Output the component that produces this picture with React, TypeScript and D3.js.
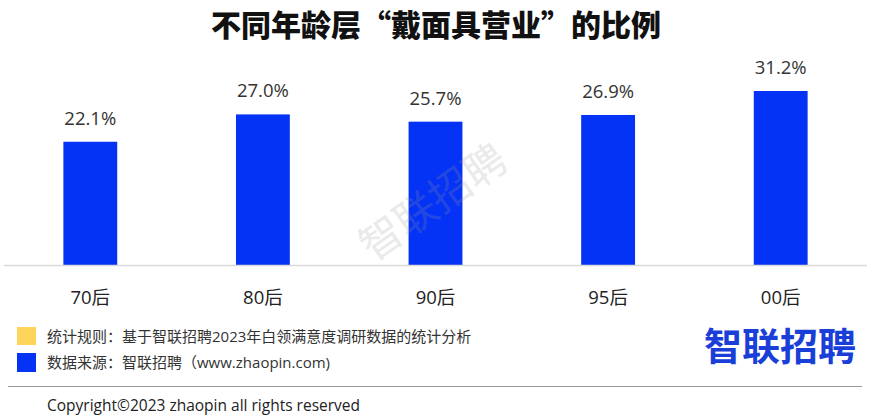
import React from "react";
import * as d3 from "d3";

const categories = ["70后", "80后", "90后", "95后", "00后"];
const values = [22.1, 27.0, 25.7, 26.9, 31.2];
const title = "不同年龄层“戴面具营业”的比例";
const legendTexts = ["统计规则：基于智联招聘2023年白领满意度调研数据的统计分析", "数据来源：智联招聘（www.zhaopin.com)"];
const copyright = "Copyright©2023 zhaopin all rights reserved";

const W = 870;
const H = 418;
const FONT = "'Open Sans', 'Noto Sans CJK SC', sans-serif";
const BLUE = "#0433F5";

export default function App() {
  const x = d3.scaleBand<string>().domain(categories).range([4, 867]).paddingInner(0.688).paddingOuter(0.344);
  const baseline = 265;
  const y = d3.scaleLinear().domain([0, 31.2]).range([baseline, 91]);

  return (
    <svg width={W} height={H} style={{ position: "absolute", left: 0, top: 0, background: "#fff" }} fontFamily={FONT}>
      <text x={436} y={36} textAnchor="middle" fontSize={30} fontWeight={900} fill="#111" fontFamily="'Noto Sans CJK SC', sans-serif">
        {title}
      </text>
      {categories.map((c, i) => (
        <g key={c}>
          <rect x={x(c)} y={y(values[i])} width={x.bandwidth()} height={baseline - y(values[i])} fill={BLUE} />
          <text x={(x(c) as number) + x.bandwidth() / 2} y={y(values[i]) - 17} textAnchor="middle" fontSize={18.5} fill="#333">
            {d3.format(".1f")(values[i]) + "%"}
          </text>
          <text x={(x(c) as number) + x.bandwidth() / 2} y={304} textAnchor="middle" fontSize={18.5} fill="#222">
            {c}
          </text>
        </g>
      ))}
      <text
        x={0}
        y={0}
        transform="translate(435,205) rotate(-35)"
        textAnchor="middle"
        dominantBaseline="middle"
        fontSize={42}
        fill="#999"
        opacity={0.2}
        fontFamily="'Noto Sans CJK SC', sans-serif"
      >
        智联招聘
      </text>
      <line x1={4} x2={867} y1={baseline + 0.5} y2={baseline + 0.5} stroke="#d9d9d9" strokeWidth={1.5} />
      <rect x={17} y={327} width={19} height={18} fill="#FFD45A" />
      <rect x={17} y={353} width={19} height={19} fill={BLUE} />
      <text x={47} y={342} fontSize={15} fill="#333">{legendTexts[0]}</text>
      <text x={47} y={368} fontSize={15} fill="#333">{legendTexts[1]}</text>
      <text x={780} y={360} textAnchor="middle" fontSize={38} fontWeight={700} fill="#1a3fd8" fontFamily="'Noto Sans CJK SC', sans-serif">
        智联招聘
      </text>
      <line x1={8} x2={862} y1={386.5} y2={386.5} stroke="#9a9a9a" strokeWidth={1.2} />
      <text x={47} y={411} fontSize={15.5} fill="#222">{copyright}</text>
    </svg>
  );
}
